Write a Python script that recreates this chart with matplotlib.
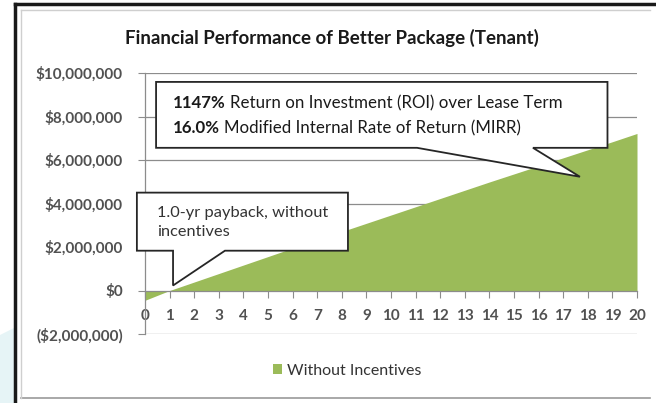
import matplotlib
matplotlib.use("Agg")
import matplotlib.pyplot as plt
from matplotlib.patches import Polygon, Patch
from matplotlib.lines import Line2D

plt.rcParams['font.family'] = ['Lato', 'DejaVu Sans']

# ---- data ----
years = list(range(0, 21))
without_incentives = [-0.45e6, 0.0, 0.39e6, 0.78e6, 1.17e6, 1.56e6, 1.95e6, 2.33e6,
                      2.71e6, 3.09e6, 3.47e6, 3.85e6, 4.23e6, 4.61e6, 4.99e6, 5.36e6,
                      5.73e6, 6.10e6, 6.47e6, 6.84e6, 7.22e6]
ytick_values = [-2e6, 0, 2e6, 4e6, 6e6, 8e6, 10e6]
ytick_labels = ["($2,000,000)", "$0", "$2,000,000", "$4,000,000",
                "$6,000,000", "$8,000,000", "$10,000,000"]
xtick_labels = [str(y) for y in years]
series_name = "Without Incentives"
title = "Financial Performance of Better Package (Tenant)"

GREEN = "#9bbb59"
GRID = "#8c8c8c"
TXT = "#333333"

W, H = 656, 403
fig = plt.figure(figsize=(W / 100, H / 100), dpi=100)
fig.patch.set_facecolor("white")

def fx(px):
    return px / W

def fy(py):
    return 1 - py / H

# background swoosh outside frame and frame lines
fig.patches.append(Polygon([(0, fy(335)), (fx(14), fy(328)), (fx(14), 0), (0, 0)],
                           closed=True, transform=fig.transFigure,
                           facecolor="#e6f4f6", edgecolor="none"))
fig.lines.append(Line2D([fx(15), fx(15)], [fy(403), fy(4)], transform=fig.transFigure,
                        color="#1a1a1a", lw=2.5))
fig.lines.append(Line2D([fx(15), fx(656)], [fy(4), fy(4)], transform=fig.transFigure,
                        color="#1a1a1a", lw=2.5))
fig.lines.append(Line2D([fx(21), fx(650)], [fy(398), fy(398)], transform=fig.transFigure,
                        color="#9a9a9a", lw=1.2))
fig.lines.append(Line2D([fx(21), fx(21)], [fy(10), fy(398)], transform=fig.transFigure,
                        color="#cfcfcf", lw=1.0))
fig.lines.append(Line2D([fx(21), fx(650)], [fy(10), fy(10)], transform=fig.transFigure,
                        color="#cfcfcf", lw=1.0))

ax = fig.add_axes([fx(145), fy(334), (637 - 145) / W, (334 - 73) / H])
ax.set_facecolor("none")

ax.fill_between(years, without_incentives, 0, color=GREEN, lw=0, zorder=2)

ax.set_xlim(0, 20)
ax.set_ylim(-2e6, 10e6)
ax.set_yticks(ytick_values)
ax.set_yticklabels(ytick_labels)
ax.set_xticks(years)
ax.set_xticklabels(xtick_labels)

for v in ytick_values:
    if v != 0:
        ax.axhline(v, color=GRID, lw=0.9, zorder=1)

for s in ["top", "right"]:
    ax.spines[s].set_visible(False)
ax.spines["left"].set_color(GRID)
ax.spines["left"].set_linewidth(0.9)
ax.spines["bottom"].set_position(("data", 0))
ax.spines["bottom"].set_color(GRID)
ax.spines["bottom"].set_linewidth(0.9)
ax.spines["bottom"].set_zorder(3)

ax.tick_params(axis="y", direction="out", length=5, color=GRID, labelsize=11,
               labelcolor=TXT, pad=11)
ax.tick_params(axis="x", direction="out", length=5, color=GRID, labelsize=11,
               labelcolor=TXT, pad=8)
for lab in ax.get_xticklabels() + ax.get_yticklabels():
    lab.set_fontweight("bold")
    lab.set_alpha(0.85)

fig.text(fx(332), fy(38), title, ha="center", va="center",
         fontsize=13.5, fontweight="bold", color="#1a1a1a")

# callouts (data coordinates)
def callout(box, base_l, base_r, tip):
    l, r, t, b = box
    verts = [(l, t), (r, t), (r, b), (base_r, b), tip, (base_l, b), (l, b)]
    p = Polygon(verts, closed=True, facecolor="white", edgecolor="#262626",
                lw=1.3, zorder=5, clip_on=False)
    ax.add_patch(p)

callout((0.45, 18.8, 9.59e6, 6.56e6), 11.06, 15.77, (17.68, 5.23e6))
callout((-0.33, 8.25, 4.5e6, 1.83e6), 1.14, 3.25, (1.14, 0.23e6))

def two_part(x, y, bold, rest, size):
    t1 = ax.text(x, y, bold, fontsize=size, fontweight="bold", color="#1a1a1a",
                 va="baseline", ha="left", zorder=6)
    ax.annotate(rest, xy=(1, 0), xycoords=t1, xytext=(2.5, 0), textcoords="offset points",
                fontsize=size, color="#1a1a1a", va="bottom", ha="left", zorder=6)

two_part(1.15, 8.38e6, "1147%", "Return on Investment (ROI) over Lease Term", 12.2)
two_part(1.15, 7.22e6, "16.0%", "Modified Internal Rate of Return (MIRR)", 12.2)

ax.text(0.48, 3.12e6, "1.0-yr payback, without\nincentives", fontsize=11.8,
        color=TXT, va="center", ha="left", linespacing=1.4, zorder=6)

handle = Patch(facecolor=GREEN, edgecolor="none")
fig.legend([handle], [series_name], loc="center", bbox_to_anchor=(fx(347), fy(371)),
           frameon=False, fontsize=11.5, handlelength=0.6, handleheight=0.6,
           handletextpad=0.3, labelcolor=TXT)

fig.savefig("out.png", dpi=100)
